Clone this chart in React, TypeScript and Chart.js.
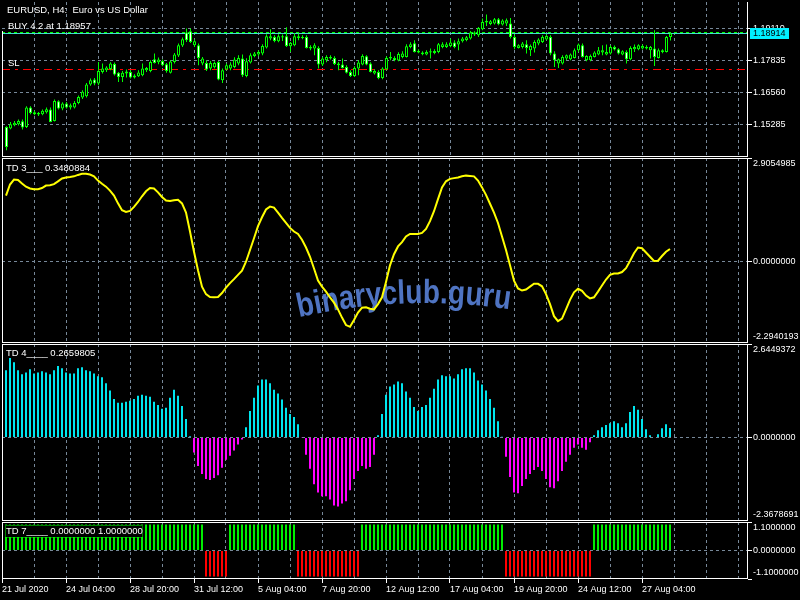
import { useEffect, useRef } from 'react';
import { Chart, registerables } from 'chart.js';

Chart.register(...registerables);

const FONT = '"Liberation Sans", Arial, sans-serif';
const GRID_COLOR = '#778899';
const LIME = '#00ff00';

// EURUSD H4 candles, oldest first
const opens = [
  1.15190, 1.15127, 1.15258, 1.15298, 1.15417, 1.15190, 1.15963, 1.15696, 1.15684, 1.15696,
  1.15776, 1.15883, 1.15429, 1.16214, 1.15923, 1.16123, 1.15963, 1.15963, 1.16146, 1.16361,
  1.16413, 1.16879, 1.17079, 1.16919, 1.17381, 1.17449, 1.17501, 1.17700, 1.17342, 1.17182,
  1.17318, 1.17381, 1.17158, 1.17210, 1.17250, 1.17449, 1.17421, 1.17887, 1.17768, 1.17820,
  1.17688, 1.17342, 1.17780, 1.18035, 1.18433, 1.18951, 1.19003, 1.18445, 1.18445, 1.17716,
  1.17740, 1.17517, 1.17569, 1.17780, 1.17051, 1.17477, 1.17517, 1.17581, 1.17716, 1.17915,
  1.17222, 1.17756, 1.18019, 1.18075, 1.18114, 1.18354, 1.18712, 1.18776, 1.18605, 1.18752,
  1.18804, 1.18405, 1.18445, 1.18736, 1.18736, 1.18776, 1.18314, 1.18314, 1.18338, 1.17676,
  1.17848, 1.17915, 1.17939, 1.17648, 1.17676, 1.17581, 1.17381, 1.17222, 1.17517, 1.17676,
  1.18007, 1.17716, 1.17318, 1.17381, 1.17142, 1.17489, 1.17915, 1.17939, 1.17836, 1.17979,
  1.17979, 1.18377, 1.18525, 1.18154, 1.18087, 1.18075, 1.18154, 1.18138, 1.18178, 1.18377,
  1.18377, 1.18417, 1.18553, 1.18473, 1.18605, 1.18656, 1.18712, 1.18872, 1.18844, 1.19083,
  1.19350, 1.19294, 1.19310, 1.19481, 1.19270, 1.19310, 1.19310, 1.18776, 1.18338, 1.18377,
  1.18485, 1.18246, 1.18314, 1.18513, 1.18577, 1.18672, 1.18776, 1.18114, 1.17716, 1.17716,
  1.17915, 1.17887, 1.17939, 1.18246, 1.18445, 1.17848, 1.17848, 1.17979, 1.18075, 1.18154,
  1.18075, 1.18114, 1.18377, 1.18286, 1.18075, 1.18178, 1.17887, 1.18286, 1.18286, 1.18314,
  1.18314, 1.18246, 1.18314, 1.17939, 1.18178, 1.18178, 1.18776,
];
const highs = [
  1.15218, 1.15389, 1.15429, 1.15485, 1.15485, 1.16015, 1.16015, 1.15828, 1.15788, 1.15883,
  1.15963, 1.15963, 1.16282, 1.16254, 1.16174, 1.16186, 1.16123, 1.16226, 1.16441, 1.16652,
  1.16943, 1.17118, 1.17142, 1.17780, 1.17716, 1.17609, 1.17768, 1.17756, 1.17381, 1.17421,
  1.17477, 1.17449, 1.17290, 1.17449, 1.17716, 1.17581, 1.17848, 1.18114, 1.17955, 1.17875,
  1.17740, 1.17848, 1.18138, 1.18513, 1.18752, 1.19111, 1.19111, 1.18672, 1.18513, 1.17979,
  1.17848, 1.17820, 1.17796, 1.17820, 1.17517, 1.17716, 1.17768, 1.17967, 1.18047, 1.18075,
  1.17927, 1.18126, 1.18178, 1.18246, 1.18485, 1.18883, 1.19083, 1.18844, 1.18883, 1.18872,
  1.19162, 1.18577, 1.18923, 1.18911, 1.18844, 1.18844, 1.18445, 1.18525, 1.18405, 1.17979,
  1.18047, 1.18047, 1.18007, 1.17780, 1.17915, 1.17648, 1.17449, 1.17609, 1.17848, 1.18087,
  1.18047, 1.17768, 1.17489, 1.17449, 1.17569, 1.18007, 1.18178, 1.18007, 1.18166, 1.18206,
  1.18485, 1.18565, 1.18644, 1.18286, 1.18206, 1.18246, 1.18314, 1.18286, 1.18537, 1.18565,
  1.18565, 1.18712, 1.18644, 1.18712, 1.18776, 1.18816, 1.19015, 1.19003, 1.19174, 1.19509,
  1.19668, 1.19453, 1.19533, 1.19533, 1.19481, 1.19509, 1.19533, 1.18872, 1.18485, 1.18577,
  1.18644, 1.18473, 1.18644, 1.18724, 1.18844, 1.18872, 1.18844, 1.18206, 1.17915, 1.18047,
  1.18075, 1.18114, 1.18314, 1.18513, 1.18513, 1.18047, 1.18075, 1.18206, 1.18377, 1.18445,
  1.18473, 1.18445, 1.18433, 1.18326, 1.18246, 1.18246, 1.18405, 1.18473, 1.18485, 1.18473,
  1.18445, 1.18417, 1.19043, 1.18314, 1.18286, 1.18816, 1.18975,
];
const lows = [
  1.14262, 1.15099, 1.15218, 1.15246, 1.15087, 1.15150, 1.15696, 1.15656, 1.15628, 1.15656,
  1.15724, 1.15377, 1.15405, 1.15883, 1.15856, 1.15923, 1.15883, 1.15923, 1.16095, 1.16306,
  1.16361, 1.16824, 1.16852, 1.16852, 1.17318, 1.17381, 1.17449, 1.17238, 1.16983, 1.16983,
  1.17158, 1.17118, 1.17118, 1.17182, 1.17210, 1.17381, 1.17369, 1.17716, 1.17688, 1.17609,
  1.17342, 1.17318, 1.17716, 1.17979, 1.18377, 1.18577, 1.18537, 1.18377, 1.17648, 1.17648,
  1.17421, 1.17449, 1.17517, 1.17051, 1.16943, 1.17449, 1.17449, 1.17529, 1.17648, 1.17182,
  1.17170, 1.17716, 1.17967, 1.18007, 1.18047, 1.18314, 1.18644, 1.18565, 1.18565, 1.18616,
  1.18377, 1.18178, 1.18405, 1.18644, 1.18684, 1.18314, 1.18246, 1.18047, 1.17517, 1.17620,
  1.17768, 1.17875, 1.17660, 1.17449, 1.17517, 1.17318, 1.17182, 1.17182, 1.17250, 1.17648,
  1.17648, 1.17357, 1.17278, 1.17091, 1.17091, 1.17449, 1.17848, 1.17808, 1.17808, 1.17927,
  1.17955, 1.18326, 1.18154, 1.18126, 1.18047, 1.18047, 1.17915, 1.18087, 1.18126, 1.18326,
  1.18338, 1.18365, 1.18326, 1.18246, 1.18553, 1.18605, 1.18672, 1.18816, 1.18776, 1.19043,
  1.19214, 1.19242, 1.19270, 1.19242, 1.19230, 1.19214, 1.18712, 1.18286, 1.18314, 1.18314,
  1.18114, 1.18019, 1.18154, 1.18445, 1.18537, 1.18644, 1.18047, 1.17581, 1.17541, 1.17676,
  1.17848, 1.17848, 1.17915, 1.18178, 1.17955, 1.17808, 1.17808, 1.17955, 1.18047, 1.18047,
  1.18047, 1.18075, 1.18234, 1.18075, 1.18047, 1.17716, 1.17848, 1.18178, 1.18246, 1.18274,
  1.18274, 1.17915, 1.17620, 1.17915, 1.18126, 1.18154, 1.18632,
];
const closes = [
  1.14393, 1.15298, 1.15350, 1.15429, 1.15166, 1.15963, 1.15748, 1.15776, 1.15748, 1.15828,
  1.15895, 1.15389, 1.16226, 1.15923, 1.16123, 1.15963, 1.16055, 1.16146, 1.16385, 1.16585,
  1.16879, 1.17051, 1.16919, 1.17421, 1.17517, 1.17557, 1.17716, 1.17278, 1.17182, 1.17342,
  1.17397, 1.17158, 1.17238, 1.17357, 1.17517, 1.17541, 1.17780, 1.17740, 1.17875, 1.17648,
  1.17421, 1.17796, 1.18075, 1.18445, 1.18684, 1.18644, 1.18577, 1.18605, 1.17939, 1.17915,
  1.17477, 1.17740, 1.17740, 1.17079, 1.17449, 1.17648, 1.17676, 1.17875, 1.17939, 1.17250,
  1.17808, 1.18047, 1.18114, 1.18178, 1.18417, 1.18804, 1.18804, 1.18616, 1.18804, 1.18804,
  1.18417, 1.18537, 1.18804, 1.18804, 1.18776, 1.18338, 1.18377, 1.18445, 1.17676, 1.17915,
  1.17979, 1.17979, 1.17700, 1.17716, 1.17541, 1.17342, 1.17222, 1.17541, 1.17756, 1.18019,
  1.17676, 1.17381, 1.17421, 1.17142, 1.17517, 1.17939, 1.17979, 1.17848, 1.18099, 1.18114,
  1.18405, 1.18485, 1.18178, 1.18218, 1.18154, 1.18178, 1.18206, 1.18218, 1.18485, 1.18485,
  1.18485, 1.18553, 1.18377, 1.18605, 1.18712, 1.18764, 1.18951, 1.18951, 1.19134, 1.19373,
  1.19413, 1.19401, 1.19481, 1.19282, 1.19429, 1.19441, 1.18776, 1.18377, 1.18445, 1.18513,
  1.18338, 1.18417, 1.18577, 1.18672, 1.18776, 1.18816, 1.18114, 1.17848, 1.17887, 1.17979,
  1.18047, 1.18075, 1.18246, 1.18473, 1.17979, 1.18019, 1.18019, 1.18154, 1.18246, 1.18246,
  1.18178, 1.18377, 1.18274, 1.18114, 1.18206, 1.17887, 1.18338, 1.18377, 1.18445, 1.18417,
  1.18377, 1.18377, 1.17979, 1.18246, 1.18246, 1.18776, 1.18914,
];

// TD 3 oscillator line
const td3Values = [
  1.85, 2.16, 2.30, 2.29, 2.19, 2.10, 2.05, 2.03, 2.03, 2.06,
  2.13, 2.14, 2.17, 2.25, 2.33, 2.36, 2.37, 2.39, 2.43, 2.46,
  2.46, 2.44, 2.39, 2.27, 2.18, 2.10, 1.99, 1.85, 1.63, 1.44,
  1.39, 1.42, 1.53, 1.67, 1.83, 1.97, 2.06, 2.05, 1.94, 1.81,
  1.71, 1.70, 1.72, 1.73, 1.63, 1.37, 0.84, 0.27, -0.25, -0.71,
  -0.92, -1.00, -1.01, -1.00, -0.89, -0.74, -0.61, -0.50, -0.38, -0.26,
  -0.01, 0.32, 0.65, 0.99, 1.24, 1.46, 1.54, 1.51, 1.37, 1.22,
  1.08, 0.94, 0.84, 0.77, 0.61, 0.39, 0.13, -0.20, -0.54, -0.71,
  -0.85, -1.01, -1.16, -1.35, -1.58, -1.79, -1.84, -1.65, -1.44, -1.30,
  -1.29, -1.33, -1.35, -1.20, -1.01, -0.58, -0.11, 0.20, 0.42, 0.54,
  0.70, 0.77, 0.77, 0.77, 0.80, 0.91, 1.13, 1.41, 1.75, 2.08,
  2.25, 2.32, 2.34, 2.36, 2.39, 2.41, 2.40, 2.39, 2.27, 2.08,
  1.87, 1.62, 1.37, 1.08, 0.70, 0.32, -0.11, -0.54, -0.76, -0.82,
  -0.79, -0.71, -0.63, -0.63, -0.70, -0.92, -1.20, -1.54, -1.68, -1.61,
  -1.35, -1.08, -0.87, -0.77, -0.83, -0.96, -1.04, -1.01, -0.85, -0.68,
  -0.51, -0.38, -0.34, -0.34, -0.30, -0.19, 0.01, 0.23, 0.39, 0.37,
  0.25, 0.13, 0.01, 0.02, 0.15, 0.27, 0.3480884,
];

// TD 4 histogram
const td4Values = [
  1.90, 2.25, 2.13, 1.90, 1.79, 1.84, 1.93, 1.81, 1.84, 1.87,
  1.84, 1.79, 1.90, 2.02, 1.96, 1.84, 1.81, 1.81, 1.96, 1.99,
  1.90, 1.87, 1.81, 1.73, 1.70, 1.53, 1.33, 1.09, 0.98, 0.98,
  1.01, 1.04, 1.09, 1.18, 1.21, 1.18, 1.15, 1.01, 0.92, 0.81,
  0.84, 1.12, 1.35, 1.18, 0.89, 0.52, 0.03, -0.43, -0.81, -1.04,
  -1.18, -1.21, -1.15, -1.07, -0.86, -0.63, -0.52, -0.37, -0.20, -0.06,
  0.29, 0.75, 1.12, 1.47, 1.64, 1.64, 1.53, 1.35, 1.24, 1.07,
  0.84, 0.66, 0.58, 0.37, -0.01, -0.49, -0.89, -1.33, -1.56, -1.67,
  -1.67, -1.76, -1.93, -1.96, -1.87, -1.81, -1.50, -1.18, -0.95, -0.81,
  -0.89, -0.84, -0.49, 0.06, 0.66, 1.21, 1.44, 1.50, 1.58, 1.53,
  1.30, 1.12, 0.86, 0.75, 0.86, 0.92, 1.12, 1.38, 1.64, 1.76,
  1.73, 1.73, 1.67, 1.79, 1.93, 1.96, 1.96, 1.84, 1.61, 1.50,
  1.33, 1.09, 0.84, 0.46, 0.02, -0.55, -1.12, -1.56, -1.58, -1.38,
  -1.18, -1.04, -0.92, -0.84, -0.95, -1.18, -1.41, -1.44, -1.24, -0.95,
  -0.69, -0.49, -0.29, -0.20, -0.29, -0.35, -0.14, 0.06, 0.20, 0.29,
  0.35, 0.40, 0.46, 0.40, 0.29, 0.40, 0.72, 0.89, 0.78, 0.52,
  0.23, 0.06, -0.02, 0.09, 0.26, 0.37, 0.2659805,
];

// TD 7 direction bars (+1 up / -1 down)
const td7Values = [
  1, 1, 1, 1, 1, 1, 1, 1, 1, 1,
  1, 1, 1, 1, 1, 1, 1, 1, 1, 1,
  1, 1, 1, 1, 1, 1, 1, 1, 1, 1,
  1, 1, 1, 1, 1, 1, 1, 1, 1, 1,
  1, 1, 1, 1, 1, 1, 1, 1, 1, 1,
  -1, -1, -1, -1, -1, -1, 1, 1, 1, 1,
  1, 1, 1, 1, 1, 1, 1, 1, 1, 1,
  1, 1, 1, -1, -1, -1, -1, -1, -1, -1,
  -1, -1, -1, -1, -1, -1, -1, -1, -1, 1,
  1, 1, 1, 1, 1, 1, 1, 1, 1, 1,
  1, 1, 1, 1, 1, 1, 1, 1, 1, 1,
  1, 1, 1, 1, 1, 1, 1, 1, 1, 1,
  1, 1, 1, 1, 1, -1, -1, -1, -1, -1,
  -1, -1, -1, -1, -1, -1, -1, -1, -1, -1,
  -1, -1, -1, -1, -1, -1, -1, 1, 1, 1,
  1, 1, 1, 1, 1, 1, 1, 1, 1, 1,
  1, 1, 1, 1, 1, 1, 1,
];

const priceRange = [1.1399, 1.20166];
const priceTicks = [1.15285, 1.1656, 1.17835, 1.1911];
const td3Range = [-2.2940193, 2.9054985];
const td4Range = [-2.3678691, 2.6449372];
const td7Range = [-1.1, 1.1];

const bidPrice = 1.18914;
const orderPrice = 1.18957;
const stopLoss = 1.17477;

const timeLabels = [
  '21 Jul 2020', '24 Jul 04:00', '28 Jul 20:00', '31 Jul 12:00', '5 Aug 04:00', '7 Aug 20:00',
  '12 Aug 12:00', '17 Aug 04:00', '19 Aug 20:00', '24 Aug 12:00', '27 Aug 04:00',
];
const timeLabelBars = [-1, 15, 31, 47, 63, 79, 95, 111, 127, 143, 159];

// x ranges leave empty room to the right of the last bar, like the terminal does
const CANDLE_X = { min: -1.125, max: 185.375 };
const HIST_X = { min: -1, max: 185.5 };
const gridBars: number[] = [];
for (let b = 7; b <= 183; b += 8) gridBars.push(b);

function xScale(range: { min: number; max: number }, labelled: boolean) {
  return {
    type: 'linear',
    min: range.min,
    max: range.max,
    offset: false,
    afterBuildTicks: (scale: any) => {
      const values = labelled ? [range.min, ...gridBars] : gridBars;
      scale.ticks = values.map((value) => ({ value }));
    },
    afterFit: (scale: any) => {
      scale.height = labelled ? 21 : 0;
      scale.paddingLeft = 0;
      scale.paddingRight = 0;
    },
    grid: {
      offset: false,
      color: GRID_COLOR,
      drawTicks: labelled,
      tickLength: 4,
      tickColor: (c: any) => (timeLabelBars.includes(c.tick?.value) ? '#ffffff' : 'rgba(0,0,0,0)'),
    },
    border: { display: false, dash: [3, 3] },
    ticks: {
      display: labelled,
      autoSkip: false,
      maxRotation: 0,
      minRotation: 0,
      align: 'start',
      padding: 1,
      color: '#ffffff',
      font: { family: FONT, size: 9 },
      callback: (value: number) => {
        const k = timeLabelBars.indexOf(value);
        return k >= 0 ? timeLabels[k] : '';
      },
    },
  };
}

function yScale(range: number[], ticks: number[]) {
  return {
    type: 'linear',
    position: 'right',
    min: range[0],
    max: range[1],
    afterBuildTicks: (scale: any) => {
      scale.ticks = ticks.map((value) => ({ value }));
    },
    afterFit: (scale: any) => {
      scale.width = 52;
      scale.paddingTop = 0;
      scale.paddingBottom = 0;
    },
    grid: {
      // no dashed level on the panel edges, the frame sits there
      color: (c: any) =>
        c.tick && (c.tick.value === range[0] || c.tick.value === range[1]) ? 'rgba(0,0,0,0)' : GRID_COLOR,
      drawTicks: true,
      tickLength: 4,
      tickColor: '#ffffff',
    },
    border: { display: false, dash: [3, 3] },
    ticks: { display: false },
  };
}

function baseOptions(padTop: number, x: object, y: object) {
  return {
    animation: false,
    responsive: false,
    maintainAspectRatio: false,
    devicePixelRatio: 1,
    events: [],
    layout: { autoPadding: false, padding: { left: 2, top: padTop, right: 0, bottom: 0 } },
    plugins: { legend: { display: false }, tooltip: { enabled: false } },
    scales: { x, y },
  };
}

function label(ctx: CanvasRenderingContext2D, text: string, x: number, y: number, size = 9.5, color = '#ffffff') {
  ctx.save();
  ctx.font = `${size}px ${FONT}`;
  ctx.fillStyle = color;
  ctx.textAlign = 'left';
  ctx.textBaseline = 'middle';
  ctx.fillText(text, x, y);
  ctx.restore();
}

function drawFrame(chart: any, withTop: boolean, leftFrom?: number) {
  const { ctx, chartArea: a } = chart;
  ctx.save();
  ctx.strokeStyle = '#ffffff';
  ctx.lineWidth = 1;
  ctx.beginPath();
  if (withTop) {
    ctx.moveTo(a.left, a.top + 0.5);
    ctx.lineTo(a.right, a.top + 0.5);
  }
  ctx.moveTo(a.left + 0.5, leftFrom ?? a.top);
  ctx.lineTo(a.left + 0.5, a.bottom);
  ctx.moveTo(a.right - 0.5, a.top);
  ctx.lineTo(a.right - 0.5, a.bottom);
  ctx.moveTo(a.left, a.bottom - 0.5);
  ctx.lineTo(a.right, a.bottom - 0.5);
  ctx.stroke();
  ctx.restore();
}

function drawYLabels(chart: any, ticks: number[], digits: number) {
  const { ctx, chartArea: a } = chart;
  for (const v of ticks) {
    let py = chart.scales.y.getPixelForValue(v);
    py = Math.min(Math.max(py, a.top + 5.5), a.bottom - 6);
    label(ctx, v.toFixed(digits), 753, py, 9);
  }
}

function drawWatermark(ctx: CanvasRenderingContext2D, offsetY: number) {
  const text = 'binaryclub.guru';
  ctx.save();
  ctx.font = `bold 26px ${FONT}`;
  const size = (26 * 212) / ctx.measureText(text).width;
  ctx.font = `bold ${size}px ${FONT}`;
  ctx.fillStyle = '#4f74c2';
  ctx.textAlign = 'center';
  ctx.textBaseline = 'alphabetic';
  const R = 560;
  const cx = 425;
  const cy = 303 - offsetY + R;
  let s = 298 - cx;
  for (const ch of text) {
    const w = ctx.measureText(ch).width;
    const t = (s + w / 2) / R;
    ctx.save();
    ctx.translate(cx + R * Math.sin(t), cy - R * Math.cos(t));
    ctx.rotate(t);
    ctx.scale(1, 1.2);
    ctx.fillText(ch, 0, 0);
    ctx.restore();
    s += w;
  }
  ctx.restore();
}

const pricePlugin = {
  id: 'pricePanel',
  beforeDatasetsDraw(chart: any) {
    const { ctx, chartArea: a } = chart;
    const hline = (value: number, color: string, dash: number[]) => {
      const py = Math.floor(chart.scales.y.getPixelForValue(value)) + 0.5;
      ctx.save();
      ctx.strokeStyle = color;
      ctx.lineWidth = 1;
      ctx.setLineDash(dash);
      ctx.beginPath();
      ctx.moveTo(a.left, py);
      ctx.lineTo(a.right, py);
      ctx.stroke();
      ctx.restore();
    };
    hline(stopLoss, '#ff0000', [8, 5, 3, 5]);
    hline(orderPrice, LIME, [3, 3]);
    hline(bidPrice, '#40e0d0', []);
  },
  afterDraw(chart: any) {
    const { ctx } = chart;
    drawFrame(chart, false, 31);
    drawYLabels(chart, priceTicks, 5);
    const py = chart.scales.y.getPixelForValue(bidPrice);
    ctx.fillStyle = '#00f0ff';
    ctx.fillRect(750, Math.round(py) - 5, 39, 11);
    label(ctx, bidPrice.toFixed(5), 753, py, 9, '#000000');
    label(ctx, 'EURUSD, H4:  Euro vs US Dollar', 7, 10);
    label(ctx, `BUY 4.2 at ${orderPrice.toFixed(5)}`, 8, 26.5);
    label(ctx, 'SL', 8, 63);
  },
};

function priceConfig(): any {
  return {
    type: 'bar',
    data: {
      datasets: [
        {
          data: lows.map((l, i) => ({ x: i, y: [l, highs[i]] })),
          backgroundColor: LIME,
          barThickness: 1,
          grouped: false,
          inflateAmount: 0,
          order: 2,
        },
        {
          data: opens.map((o, i) => ({ x: i, y: [o, closes[i]] })),
          backgroundColor: opens.map((o, i) => (closes[i] >= o ? '#000000' : '#ffffff')),
          borderColor: LIME,
          borderWidth: 1,
          borderSkipped: false,
          barThickness: 3,
          grouped: false,
          inflateAmount: 0,
          minBarLength: 1,
          order: 1,
        },
      ],
    },
    options: baseOptions(2, xScale(CANDLE_X, false), yScale(priceRange, priceTicks)),
    plugins: [pricePlugin],
  };
}

function td3Config(): any {
  const ticks = [td3Range[0], 0, td3Range[1]];
  return {
    type: 'line',
    data: {
      datasets: [
        {
          data: td3Values.map((v, i) => ({ x: i, y: v })),
          borderColor: '#ffff00',
          borderWidth: 2,
          pointRadius: 0,
          tension: 0,
          fill: false,
        },
      ],
    },
    options: baseOptions(0, xScale(HIST_X, false), yScale(td3Range, ticks)),
    plugins: [
      {
        id: 'td3Panel',
        beforeDatasetsDraw(chart: any) {
          drawWatermark(chart.ctx, 158);
        },
        afterDraw(chart: any) {
          drawFrame(chart, true);
          drawYLabels(chart, ticks, 7);
          label(chart.ctx, `TD 3___ ${td3Values[td3Values.length - 1].toFixed(7)}`, 6, 10);
        },
      },
    ],
  };
}

function td4Config(): any {
  const ticks = [td4Range[0], 0, td4Range[1]];
  return {
    type: 'bar',
    data: {
      datasets: [
        {
          data: td4Values.map((v, i) => ({ x: i, y: v })),
          backgroundColor: td4Values.map((v) => (v >= 0 ? '#00e5ee' : '#ff00ff')),
          barThickness: 2,
          inflateAmount: 0,
          grouped: false,
        },
      ],
    },
    options: baseOptions(0, xScale(HIST_X, false), yScale(td4Range, ticks)),
    plugins: [
      {
        id: 'td4Panel',
        afterDraw(chart: any) {
          drawFrame(chart, true);
          drawYLabels(chart, ticks, 7);
          label(chart.ctx, `TD 4____ ${td4Values[td4Values.length - 1].toFixed(7)}`, 6, 9.7);
        },
      },
    ],
  };
}

function td7Config(): any {
  const ticks = [td7Range[0], 0, td7Range[1]];
  const last = td7Values[td7Values.length - 1];
  return {
    type: 'bar',
    data: {
      datasets: [
        {
          data: td7Values.map((v, i) => ({ x: i, y: v })),
          backgroundColor: td7Values.map((v) => (v >= 0 ? '#00ee00' : '#ff0000')),
          barThickness: 2,
          inflateAmount: 0,
          grouped: false,
        },
      ],
    },
    options: baseOptions(0, xScale(HIST_X, true), yScale(td7Range, ticks)),
    plugins: [
      {
        id: 'td7Panel',
        afterDraw(chart: any) {
          const { ctx } = chart;
          drawFrame(chart, true);
          drawYLabels(chart, ticks, 7);
          ctx.save();
          ctx.fillStyle = '#000000';
          ctx.fillRect(5, 3, 138, 12);
          ctx.strokeStyle = LIME;
          ctx.setLineDash([1, 1]);
          ctx.strokeRect(5.5, 3.5, 137, 12);
          ctx.restore();
          const text = `TD 7____ ${Math.max(0, -last).toFixed(7)} ${Math.max(0, last).toFixed(7)}`;
          label(ctx, text, 6, 9.7);
        },
      },
    ],
  };
}

type PanelProps = { top: number; height: number; build: () => any };

function Panel({ top, height, build }: PanelProps) {
  const canvasRef = useRef<HTMLCanvasElement | null>(null);

  useEffect(() => {
    const canvas = canvasRef.current;
    if (!canvas) {
      return undefined;
    }
    const chart = new Chart(canvas, build());
    return () => {
      chart.destroy();
    };
  }, [build]);

  return (
    <canvas
      ref={canvasRef}
      width={800}
      height={height}
      style={{ position: 'absolute', left: 0, top, width: 800, height }}
    />
  );
}

export default function App() {
  return (
    <div
      style={{
        position: 'fixed',
        left: 0,
        top: 0,
        width: 800,
        height: 600,
        background: '#000000',
        overflow: 'hidden',
      }}
    >
      <Panel top={0} height={157} build={priceConfig} />
      <Panel top={158} height={185} build={td3Config} />
      <Panel top={344} height={177} build={td4Config} />
      <Panel top={522} height={78} build={td7Config} />
    </div>
  );
}
